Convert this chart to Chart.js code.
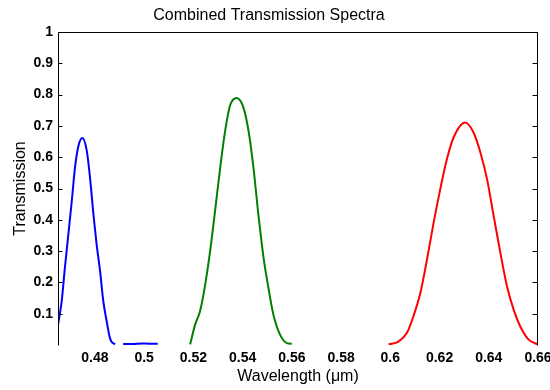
<!DOCTYPE html>
<html>
<head>
<meta charset="utf-8">
<title>Combined Transmission Spectra</title>
<script src="https://cdn.jsdelivr.net/npm/chart.js@4/dist/chart.umd.min.js"></script>
<style>
    html, body { margin: 0; padding: 0; background: #fff; }
    #wrap { width: 550px; height: 390px; }
</style>
</head>
<body>
<div id="wrap"><canvas id="spectra"></canvas></div>
<script>
// wavelength (um) / transmission samples for each filter
const blueX  = [0.4650, 0.4665, 0.4678, 0.4692, 0.4706, 0.4719, 0.4733, 0.4749, 0.4767, 0.4780, 0.4794, 0.4807, 0.4821, 0.4834, 0.4848, 0.4861, 0.4870, 0.4882, 0.4900, 0.4915, 0.4950, 0.4990, 0.5020, 0.5055];
const blueY  = [0.064, 0.140, 0.247, 0.353, 0.460, 0.567, 0.636, 0.661, 0.620, 0.535, 0.417, 0.321, 0.236, 0.140, 0.075, 0.022, 0.008, 0.003, null, 0.003, 0.003, 0.005, 0.004, 0.004];

const greenX = [0.5187, 0.5207, 0.5227, 0.5248, 0.5268, 0.5288, 0.5309, 0.5329, 0.5349, 0.5376, 0.5403, 0.5424, 0.5444, 0.5464, 0.5485, 0.5505, 0.5525, 0.5552, 0.5580, 0.5600];
const greenY = [0.002, 0.065, 0.108, 0.193, 0.300, 0.428, 0.567, 0.684, 0.765, 0.789, 0.759, 0.684, 0.567, 0.417, 0.279, 0.182, 0.097, 0.033, 0.006, 0.004];

const redX   = [0.5993, 0.6033, 0.6067, 0.6094, 0.6122, 0.6149, 0.6176, 0.6203, 0.6230, 0.6257, 0.6304, 0.6338, 0.6366, 0.6393, 0.6420, 0.6447, 0.6474, 0.6501, 0.6528, 0.6562, 0.6600];
const redY   = [0.002, 0.011, 0.038, 0.092, 0.166, 0.273, 0.391, 0.498, 0.594, 0.663, 0.711, 0.679, 0.615, 0.530, 0.412, 0.295, 0.188, 0.113, 0.059, 0.017, 0.002];

const xTicks = [0.48, 0.5, 0.52, 0.54, 0.56, 0.58, 0.6, 0.62, 0.64, 0.66];
const yTicks = [0.1, 0.2, 0.3, 0.4, 0.5, 0.6, 0.7, 0.8, 0.9, 1];

const toPoints = (xs, ys) => xs.map((x, i) => ({ x: x, y: ys[i] }));

// MATLAB-style box: top/left/right edges + inward y ticks on both sides
const frameBox = {
    id: 'frameBox',
    afterDraw(chart) {
        const { ctx, chartArea: a, scales: { y } } = chart;
        const L = Math.round(a.left) + 0.5;
        const R = Math.round(a.right) - 0.5;
        const T = Math.round(a.top) + 0.5;
        const B = Math.round(a.bottom) + 0.5;
        ctx.save();
        ctx.strokeStyle = '#000';
        ctx.lineWidth = 1;
        ctx.beginPath();
        ctx.moveTo(L, B);
        ctx.lineTo(L, T);
        ctx.lineTo(R, T);
        ctx.lineTo(R, B);
        yTicks.forEach(v => {
            const py = Math.round(y.getPixelForValue(v)) + 0.5;
            ctx.moveTo(L, py); ctx.lineTo(L + 4, py);
            ctx.moveTo(R, py); ctx.lineTo(R - 5, py);
        });
        ctx.stroke();
        ctx.restore();
    }
};

Chart.defaults.font.family = 'Arial, "Liberation Sans", sans-serif';
Chart.defaults.color = '#000';

const lineSet = (data, color) => ({
    data: data,
    borderColor: color,
    borderWidth: 2,
    pointRadius: 0,
    fill: false,
    spanGaps: false,
    cubicInterpolationMode: 'monotone'
});

new Chart(document.getElementById('spectra'), {
    type: 'line',
    data: {
        datasets: [
            lineSet(toPoints(blueX, blueY), '#0000ff'),
            lineSet(toPoints(greenX, greenY), '#008000'),
            lineSet(toPoints(redX, redY), '#ff0000')
        ]
    },
    options: {
        responsive: true,
        maintainAspectRatio: false,
        animation: false,
        layout: { padding: { top: 0, right: 12, bottom: 0, left: 0 } },
        plugins: {
            legend: { display: false },
            tooltip: { enabled: false },
            title: {
                display: true,
                text: 'Combined Transmission Spectra',
                color: '#000',
                font: { size: 16, weight: 'normal' },
                padding: { top: 6, bottom: 6.8 }
            }
        },
        scales: {
            x: {
                type: 'linear',
                min: 0.465,
                max: 0.66,
                afterBuildTicks: s => { s.ticks = xTicks.map(v => ({ value: v })); },
                afterFit: s => {
                    s.height = 45;
                    // let the last label hang past the plot edge
                    s.paddingLeft = 0;
                    s.paddingRight = 0;
                },
                grid: { display: false, drawTicks: false },
                border: { display: false },
                ticks: {
                    padding: 5,
                    maxRotation: 0,
                    autoSkip: false,
                    color: '#000',
                    font: { size: 14, weight: 'bold' },
                    callback: v => String(v)
                },
                title: {
                    display: true,
                    text: 'Wavelength (\u03bcm)',
                    color: '#000',
                    font: { size: 16, weight: 'normal' },
                    padding: { top: 0, bottom: 4 }
                }
            },
            y: {
                min: 0,
                max: 1,
                afterBuildTicks: s => { s.ticks = yTicks.map(v => ({ value: v })); },
                afterFit: s => {
                    s.width = 58;
                    s.paddingTop = 0;
                    s.paddingBottom = 0;
                },
                grid: { display: false, drawTicks: false },
                border: { display: false },
                ticks: {
                    padding: 5,
                    autoSkip: false,
                    color: '#000',
                    font: { size: 14, weight: 'bold' },
                    callback: v => String(v)
                },
                title: {
                    display: true,
                    text: 'Transmission',
                    color: '#000',
                    font: { size: 16, weight: 'normal' },
                    padding: { top: 11, bottom: 0 }
                }
            }
        }
    },
    plugins: [frameBox]
});
</script>
</body>
</html>
